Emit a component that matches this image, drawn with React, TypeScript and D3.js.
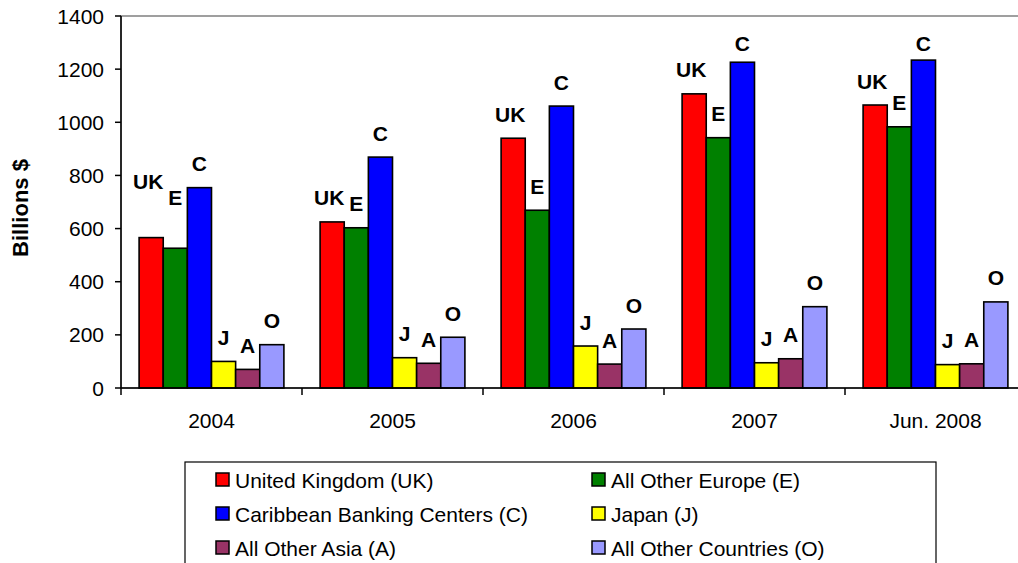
import React from "react";
import * as d3 from "d3";

const categories = ["2004", "2005", "2006", "2007", "Jun. 2008"];
const seriesNames = [
  "United Kingdom (UK)",
  "All Other Europe (E)",
  "Caribbean Banking Centers (C)",
  "Japan (J)",
  "All Other Asia (A)",
  "All Other Countries (O)",
];
const seriesCodes = ["UK", "E", "C", "J", "A", "O"];
const seriesColors = ["#FF0000", "#008000", "#0000FF", "#FFFF00", "#993366", "#9999FF"];

const ukValues = [566, 625, 940, 1107, 1065];
const europeValues = [526, 603, 669, 942, 983];
const caribbeanValues = [754, 869, 1061, 1226, 1234];
const japanValues = [100, 114, 158, 95, 88];
const asiaValues = [70, 93, 90, 110, 91];
const otherValues = [163, 191, 222, 306, 324];
const allValues = [ukValues, europeValues, caribbeanValues, japanValues, asiaValues, otherValues];

const yTicks = [0, 200, 400, 600, 800, 1000, 1200, 1400];

// manual label nudges (pixels) for the 2004 group, as in the source chart
const labelExtraLift: Record<string, number> = { "0-0": 32, "0-1": 27 };

const W = 1018;
const H = 563;
const plotLeft = 121;
const plotTop = 16;
const plotBottom = 388;
const plotRight = 1026;
const FONT = "'Liberation Sans', Arial, Helvetica, sans-serif";

export default function App() {
  const x = d3.scaleBand<string>().domain(categories).range([plotLeft, plotRight]).paddingInner(0).paddingOuter(0);
  const xs = d3
    .scaleBand<string>()
    .domain(seriesCodes)
    .range([0, x.bandwidth()])
    .paddingInner(0)
    .paddingOuter(0.75);
  const y = d3.scaleLinear().domain([0, 1400]).range([plotBottom, plotTop]);

  const legendLeft = 185;
  const legendTop = 462;
  const legendRight = 936;
  const legendCols = [216, 592];
  const legendRows = [480, 514, 548];

  return (
    <svg
      width={W}
      height={H}
      style={{ position: "absolute", left: 0, top: 0, background: "#fff" }}
      fontFamily={FONT}
    >
      <rect x={0} y={0} width={W} height={H} fill="#fff" />
      {/* plot area border */}
      <rect x={plotLeft} y={plotTop} width={plotRight - plotLeft} height={plotBottom - plotTop} fill="none" stroke="#808080" strokeWidth={1.5} />

      {/* bars */}
      {categories.map((cat, ci) => (
        <g key={cat}>
          {seriesCodes.map((code, si) => {
            const v = allValues[si][ci];
            const bx = (x(cat) ?? 0) + (xs(code) ?? 0);
            const bw = xs.bandwidth();
            const top = y(v);
            return (
              <rect
                key={code}
                x={bx}
                y={top}
                width={bw}
                height={plotBottom - top}
                fill={seriesColors[si]}
                stroke="#000"
                strokeWidth={1.6}
              />
            );
          })}
        </g>
      ))}

      {/* labels */}
      {categories.map((cat, ci) => (
        <g key={"l" + cat}>
          {seriesCodes.map((code, si) => {
            const v = allValues[si][ci];
            const cx = (x(cat) ?? 0) + (xs(code) ?? 0) + xs.bandwidth() / 2 - (code === "UK" ? 3 : 0);
            let cy = y(v) - 24 - (labelExtraLift[`${ci}-${si}`] ?? 0);
            cy = Math.max(cy, 43);
            return (
              <text
                key={code}
                x={cx}
                y={cy}
                dy="0.36em"
                textAnchor="middle"
                fontWeight="bold"
                fontSize={21}
                fill="#000"
              >
                {code}
              </text>
            );
          })}
        </g>
      ))}

      {/* y axis */}
      <line x1={plotLeft} x2={plotLeft} y1={plotTop} y2={plotBottom} stroke="#000" strokeWidth={1.5} />
      {yTicks.map((t) => (
        <g key={t}>
          <line x1={plotLeft - 6} x2={plotLeft} y1={y(t)} y2={y(t)} stroke="#000" strokeWidth={1.5} />
          <text x={plotLeft - 17} y={y(t)} dy="0.36em" textAnchor="end" fontSize={21} fill="#000">
            {t}
          </text>
        </g>
      ))}

      {/* x axis */}
      <line x1={plotLeft} x2={plotRight} y1={plotBottom} y2={plotBottom} stroke="#000" strokeWidth={1.5} />
      {categories.map((cat) => (
        <g key={"t" + cat}>
          <line x1={(x(cat) ?? 0)} x2={(x(cat) ?? 0)} y1={plotBottom} y2={plotBottom + 7} stroke="#000" strokeWidth={1.5} />
          <text x={(x(cat) ?? 0) + x.bandwidth() / 2} y={420} dy="0.36em" textAnchor="middle" fontSize={21} fill="#000">
            {cat}
          </text>
        </g>
      ))}

      {/* y title */}
      <text
        transform={`translate(20,208) rotate(-90)`}
        textAnchor="middle"
        dy="0.36em"
        fontWeight="bold"
        fontSize={22}
        fill="#000"
      >
        Billions $
      </text>

      {/* legend */}
      <rect x={legendLeft} y={legendTop} width={legendRight - legendLeft} height={H + 10 - legendTop} fill="#fff" stroke="#000" strokeWidth={1.2} />
      {seriesNames.map((name, i) => {
        const col = i % 2;
        const row = Math.floor(i / 2);
        const lx = legendCols[col];
        const ly = legendRows[row];
        return (
          <g key={name}>
            <rect x={lx} y={ly - 7} width={13} height={13} fill={seriesColors[i]} stroke="#000" strokeWidth={1.5} />
            <text x={lx + 19} y={ly} dy="0.36em" fontSize={21} fill="#000">
              {name}
            </text>
          </g>
        );
      })}
    </svg>
  );
}
